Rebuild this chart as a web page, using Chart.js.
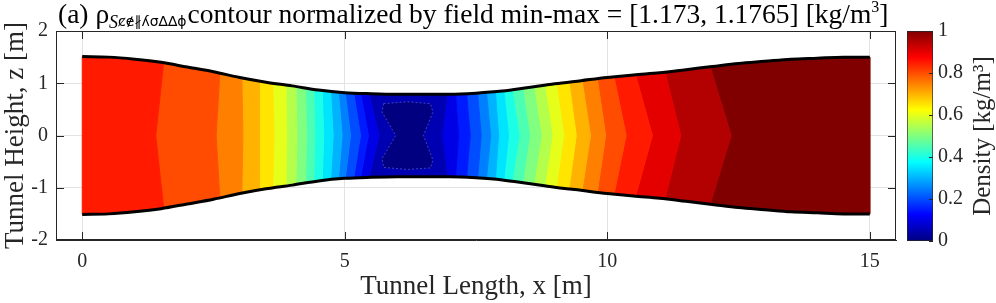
<!DOCTYPE html>
<html>
<head>
<meta charset="utf-8">
<script src="https://cdn.jsdelivr.net/npm/chart.js@4.4.1/dist/chart.umd.min.js"></script>
<style>
  html, body { margin: 0; padding: 0; background: #fff; }
  #wrap { position: relative; width: 996px; height: 303px; }
  #main { position: absolute; left: 0; top: 0; }
  #cbar { position: absolute; left: 900px; top: 0; }
</style>
</head>
<body>
<div id="wrap">
  <canvas id="main" width="900" height="303"></canvas>
  <canvas id="cbar" width="96" height="303"></canvas>
</div>
<script>
// tunnel wall (upper half, lower is mirrored)
const wallX = [0, 0.5, 1, 1.5, 2, 2.5, 3, 3.5, 4, 4.5, 5, 5.5, 6, 6.5, 7, 7.5, 8, 8.5, 9, 9.5, 10, 10.5, 11, 11.5, 12, 12.5, 13, 13.5, 14, 14.5, 15];
const wallZ = [1.51, 1.50, 1.46, 1.40, 1.31, 1.22, 1.11, 1.02, 0.95, 0.87, 0.82, 0.80, 0.79, 0.79, 0.79, 0.81, 0.85, 0.92, 0.99, 1.05, 1.11, 1.16, 1.20, 1.26, 1.32, 1.38, 1.42, 1.46, 1.48, 1.50, 1.50];

// normalized density of each filled band, inlet to outlet
const bandLevels = [0.85, 0.80, 0.75, 0.70, 0.65, 0.60, 0.55, 0.50, 0.45, 0.40, 0.35, 0.30, 0.25, 0.20, 0.15, 0.10, 0.05,
                    0.10, 0.15, 0.20, 0.25, 0.30, 0.35, 0.40, 0.45, 0.50, 0.55, 0.60, 0.65, 0.70, 0.75, 0.80, 0.85, 0.90, 0.95, 1.00];
// contour lines between bands: x where they meet the wall, x on the centreline
const edgeTopX = [1.55, 2.62, 3.04, 3.37, 3.63, 3.88, 4.07, 4.25, 4.41, 4.57, 4.73, 4.88, 5.01, 5.17, 5.30, 5.46,
                  6.95, 7.11, 7.32, 7.53, 7.70, 7.87, 8.03, 8.19, 8.39, 8.60, 8.81, 9.03, 9.27, 9.52, 9.81, 10.13, 10.54, 11.10, 11.96];
const edgeMidX = [1.40, 2.55, 3.06, 3.38, 3.65, 3.89, 4.09, 4.27, 4.43, 4.60, 4.78, 4.95, 5.11, 5.30, 5.45, 5.65,
                  6.85, 7.17, 7.39, 7.60, 7.78, 7.93, 8.12, 8.32, 8.52, 8.74, 8.95, 9.17, 9.41, 9.68, 9.97, 10.36, 10.86, 11.40, 12.36];

// closed minimum region in the throat (level 0)
const coreLevel = 0;
const coreX = [5.74, 6.19, 6.63, 6.68, 6.50, 6.68, 6.63, 6.19, 5.74, 5.71, 5.97, 5.71, 5.74];
const coreZ = [0.61, 0.645, 0.61, 0.45, 0.0, -0.47, -0.62, -0.65, -0.61, -0.44, 0.0, 0.45, 0.61];

const xTicks = [0, 5, 10, 15];
const yTicks = [-2, -1, 0, 1, 2];
const barTicks = [0, 0.2, 0.4, 0.6, 0.8, 1];

const titleRuns = [
    { text: '(a) ρ', kind: 'main' },
    { text: 'S', kind: 'sub' },
    { text: 'ȼɇ∦ʎσ∆∆ɸ', kind: 'junk' },
    { text: 'contour normalized by field min-max = [1.173, 1.1765] [kg/m', kind: 'main' },
    { text: '3', kind: 'sup' },
    { text: ']', kind: 'main' }
];

const SERIF = "'Liberation Serif', 'Times New Roman', serif";
const INK = '#262626';

function jet(t) {
    const c = v => Math.round(255 * Math.max(0, Math.min(1, v)));
    return 'rgb(' + c(1.5 - Math.abs(4 * t - 3)) + ',' + c(1.5 - Math.abs(4 * t - 2)) + ',' + c(1.5 - Math.abs(4 * t - 1)) + ')';
}

function wallAt(x) {
    for (let i = 1; i < wallX.length; i++) {
        if (x <= wallX[i]) {
            const f = (x - wallX[i - 1]) / (wallX[i] - wallX[i - 1]);
            return wallZ[i - 1] + f * (wallZ[i] - wallZ[i - 1]);
        }
    }
    return wallZ[wallZ.length - 1];
}

function bandShape(k) {
    const x0 = wallX[0], x1 = wallX[wallX.length - 1];
    const L = k === 0 ? { top: x0, mid: x0 } : { top: edgeTopX[k - 1], mid: edgeMidX[k - 1] };
    const R = k === edgeTopX.length ? { top: x1, mid: x1 } : { top: edgeTopX[k], mid: edgeMidX[k] };
    const pts = [{ x: L.top, y: wallAt(L.top) }];
    wallX.forEach((x, i) => { if (x > L.top && x < R.top) pts.push({ x: x, y: wallZ[i] }); });
    pts.push({ x: R.top, y: wallAt(R.top) });
    pts.push({ x: R.mid, y: 0 });
    pts.push({ x: R.top, y: -wallAt(R.top) });
    for (let i = wallX.length - 1; i >= 0; i--) {
        if (wallX[i] > L.top && wallX[i] < R.top) pts.push({ x: wallX[i], y: -wallZ[i] });
    }
    pts.push({ x: L.top, y: -wallAt(L.top) });
    pts.push({ x: L.mid, y: 0 });
    pts.push({ x: L.top, y: wallAt(L.top) });
    return pts;
}

const datasets = bandLevels.map((lv, k) => ({
    data: bandShape(k),
    showLine: true,
    fill: 'shape',
    backgroundColor: jet(lv),
    borderColor: jet(lv),
    borderWidth: 1,
    pointRadius: 0,
    order: 10
}));

datasets.push({
    data: coreX.map((x, i) => ({ x: x, y: coreZ[i] })),
    showLine: true,
    fill: 'shape',
    backgroundColor: jet(coreLevel),
    borderColor: 'rgba(110,110,200,0.6)',
    borderWidth: 1,
    borderDash: [2, 2],
    pointRadius: 0,
    order: 5
});

[1, -1].forEach(s => {
    datasets.push({
        data: wallX.map((x, i) => ({ x: x, y: s * wallZ[i] })),
        showLine: true,
        fill: false,
        borderColor: '#000',
        borderWidth: 3,
        cubicInterpolationMode: 'monotone',
        pointRadius: 0,
        order: 1
    });
});

const boxPlugin = {
    id: 'axisBox',
    afterDatasetsDraw(chart) {
        const { ctx, chartArea: a, scales } = chart;
        ctx.save();
        ctx.strokeStyle = INK;
        ctx.lineWidth = 1;
        ctx.beginPath();
        xTicks.forEach(v => {
            const px = Math.round(scales.x.getPixelForValue(v)) + 0.5;
            ctx.moveTo(px, a.bottom); ctx.lineTo(px, a.bottom - 8);
            ctx.moveTo(px, a.top); ctx.lineTo(px, a.top + 8);
        });
        yTicks.forEach(v => {
            const py = Math.round(scales.y.getPixelForValue(v)) + 0.5;
            ctx.moveTo(a.left, py); ctx.lineTo(a.left + 8, py);
            ctx.moveTo(a.right, py); ctx.lineTo(a.right - 8, py);
        });
        ctx.stroke();
        ctx.strokeRect(Math.round(a.left) + 0.5, Math.round(a.top) + 0.5, Math.round(a.width) - 1, Math.round(a.height) - 1);
        ctx.restore();
    }
};

const titlePlugin = {
    id: 'titleRuns',
    afterDraw(chart) {
        const ctx = chart.ctx;
        const fonts = {
            main: { font: '27.5px ' + SERIF, dy: 0 },
            sub: { font: 'italic 18px ' + SERIF, dy: 5 },
            junk: { font: '14px "DejaVu Sans", sans-serif', dy: 3 },
            sup: { font: '16px ' + SERIF, dy: -11 }
        };
        let x = 58;
        const base = 23;
        ctx.save();
        ctx.fillStyle = '#000';
        ctx.textBaseline = 'alphabetic';
        ctx.textAlign = 'left';
        titleRuns.forEach(r => {
            const f = fonts[r.kind];
            ctx.font = f.font;
            ctx.fillText(r.text, x, base + f.dy);
            x += ctx.measureText(r.text).width + (r.kind === 'junk' ? 1 : 0);
        });
        ctx.restore();
    }
};

new Chart(document.getElementById('main'), {
    type: 'scatter',
    data: { datasets: datasets },
    options: {
        responsive: false,
        animation: false,
        layout: { padding: { top: 31, right: 4, left: 0, bottom: 0 } },
        plugins: { legend: { display: false }, tooltip: { enabled: false } },
        scales: {
            x: {
                type: 'linear',
                min: -0.5,
                max: 15.5,
                afterBuildTicks: s => { s.ticks = xTicks.map(v => ({ value: v })); },
                afterFit: s => { s.height = 63; },
                grid: { color: '#e3e3e3', drawTicks: false },
                border: { color: INK },
                ticks: { padding: 10, color: INK, maxRotation: 0, font: { family: SERIF, size: 20 } },
                title: { display: true, text: 'Tunnel Length, x [m]', color: INK, padding: { top: 0, bottom: 0 }, font: { family: SERIF, size: 27 } }
            },
            y: {
                type: 'linear',
                min: -2,
                max: 2,
                afterBuildTicks: s => { s.ticks = yTicks.map(v => ({ value: v })); },
                afterFit: s => { s.width = 56; },
                grid: { color: '#e3e3e3', drawTicks: false },
                border: { color: INK },
                ticks: { padding: 8, color: INK, font: { family: SERIF, size: 20 } },
                title: { display: true, text: 'Tunnel Height, z [m]', color: INK, padding: { top: 0, bottom: 0 }, font: { family: SERIF, size: 27 } }
            }
        }
    },
    plugins: [boxPlugin, titlePlugin]
});

const cbarPlugin = {
    id: 'cbarDecor',
    afterDraw(chart) {
        const { ctx, chartArea: a, scales } = chart;
        ctx.save();
        ctx.strokeStyle = INK;
        ctx.lineWidth = 1;
        ctx.beginPath();
        barTicks.forEach(v => {
            const py = Math.round(scales.y.getPixelForValue(v)) + 0.5;
            ctx.moveTo(a.right, py); ctx.lineTo(a.right - 4, py);
        });
        ctx.stroke();
        ctx.translate(90, 136);
        ctx.rotate(-Math.PI / 2);
        ctx.fillStyle = INK;
        ctx.font = '25px ' + SERIF;
        ctx.textAlign = 'center';
        ctx.textBaseline = 'alphabetic';
        ctx.fillText('Density [kg/m³]', 0, 0);
        ctx.restore();
    }
};

new Chart(document.getElementById('cbar'), {
    type: 'bar',
    data: {
        labels: [''],
        datasets: [{
            data: [1],
            backgroundColor: c => {
                const a = c.chart.chartArea;
                if (!a) return jet(0.5);
                const g = c.chart.ctx.createLinearGradient(0, a.bottom, 0, a.top);
                for (let t = 0; t <= 1.0001; t += 0.0625) g.addColorStop(Math.min(1, t), jet(t));
                return g;
            },
            borderColor: INK,
            borderWidth: 1,
            borderSkipped: false,
            barPercentage: 1,
            categoryPercentage: 1
        }]
    },
    options: {
        responsive: false,
        animation: false,
        layout: { padding: { left: 7, top: 31, bottom: 62, right: 0 } },
        plugins: { legend: { display: false }, tooltip: { enabled: false } },
        scales: {
            x: { display: false },
            y: {
                position: 'right',
                min: 0,
                max: 1,
                afterBuildTicks: s => { s.ticks = barTicks.map(v => ({ value: v })); },
                afterFit: s => { s.width = 63; },
                grid: { display: false, drawTicks: false },
                border: { display: false },
                ticks: { padding: 5, color: INK, font: { family: SERIF, size: 20 }, callback: v => String(v) }
            }
        }
    },
    plugins: [cbarPlugin]
});
</script>
</body>
</html>
